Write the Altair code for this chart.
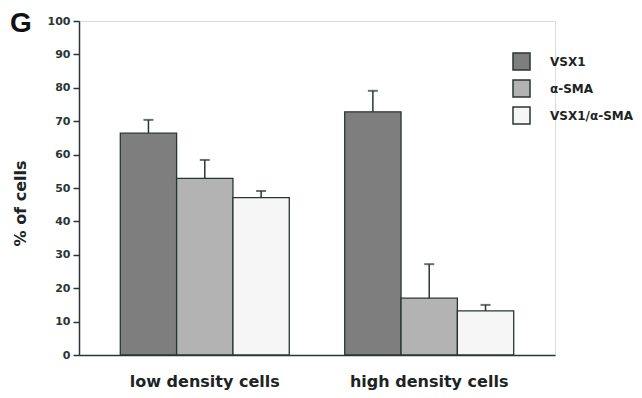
import altair as alt
import pandas as pd

groups = ["low density cells", "high density cells"]
series = ["VSX1", "α-SMA", "VSX1/α-SMA"]
values_low = [66.4, 52.9, 47.1]
values_high = [72.8, 17.0, 13.2]
err_low = [4.0, 5.5, 2.0]
err_high = [6.3, 10.2, 1.8]
colors = ["#7e7e7e", "#b3b3b3", "#f6f6f6"]
y_ticks = [0, 10, 20, 30, 40, 50, 60, 70, 80, 90, 100]
panel_label = ["G"]

rows = []
for g, vals, errs in [(groups[0], values_low, err_low), (groups[1], values_high, err_high)]:
    for s, v, e in zip(series, vals, errs):
        rows.append({"group": g, "series": s, "value": v, "upper": v + e})
df = pd.DataFrame(rows)

dark = "#2b3535"

x = alt.X("group:N", sort=groups, title=None,
          scale=alt.Scale(paddingInner=0.247, paddingOuter=0.184),
          axis=alt.Axis(labelAngle=0, ticks=False, labelPadding=18,
                        labelFontSize=16, labelFontWeight="bold",
                        labelColor="#1c2424", domainColor=dark,
                        domainWidth=1.5, labelBaseline="top"))
xo = alt.XOffset("series:N", sort=series,
                 scale=alt.Scale(paddingInner=0, paddingOuter=0))

yaxis = alt.Axis(values=y_ticks, grid=False,
                 tickSize=6, tickColor=dark, domainColor=dark,
                 domainWidth=1.5, tickWidth=1.5,
                 labelFontSize=11, labelFontWeight="bold",
                 labelColor=dark, labelPadding=3,
                 titleFontSize=16, titleFontWeight="bold",
                 titleColor="#1c2424", titleX=-59, titleY=182,
                 titleAngle=-90, titleAlign="center",
                 titleBaseline="middle")
yscale = alt.Scale(domain=[0, 100])

base = alt.Chart(df)

bars = base.mark_bar(stroke=dark, strokeWidth=1.3).encode(
    x=x, xOffset=xo,
    y=alt.Y("value:Q", title="% of cells", scale=yscale, axis=yaxis),
    fill=alt.Fill("series:N", sort=series,
                  scale=alt.Scale(domain=series, range=colors),
                  legend=alt.Legend(title=None, orient="none",
                                    legendX=433, legendY=31,
                                    symbolType="square", symbolSize=289,
                                    symbolStrokeColor=dark,
                                    symbolStrokeWidth=1.5,
                                    labelFontSize=12, labelFontWeight="bold",
                                    labelColor="#1c2424", labelOffset=19,
                                    rowPadding=4, labelLimit=300)),
)

errs = base.mark_rule(color=dark, strokeWidth=1.5).encode(
    x=x, xOffset=xo,
    y=alt.Y("value:Q", title="% of cells", scale=yscale, axis=yaxis),
    y2="upper:Q")

caps = base.mark_tick(color=dark, size=10, thickness=2).encode(
    x=x, xOffset=xo,
    y=alt.Y("upper:Q", title="% of cells", scale=yscale, axis=yaxis))

label = alt.Chart(pd.DataFrame({"t": panel_label})).mark_text(
    font="Liberation Sans", fontSize=28, fontWeight="bold",
    color="#111111", align="left", baseline="alphabetic").encode(
    text="t:N", x=alt.value(-69), y=alt.value(11))

chart = alt.layer(bars, errs, caps, label).properties(
    width=476, height=334,
    autosize=alt.AutoSizeParams(type="none"),
    padding={"left": 71, "top": 13, "right": 79, "bottom": 35},
).configure_view(stroke=None).configure(font="DejaVu Sans")

chart.save("out.html", embed_options={"renderer": "svg", "actions": False})
